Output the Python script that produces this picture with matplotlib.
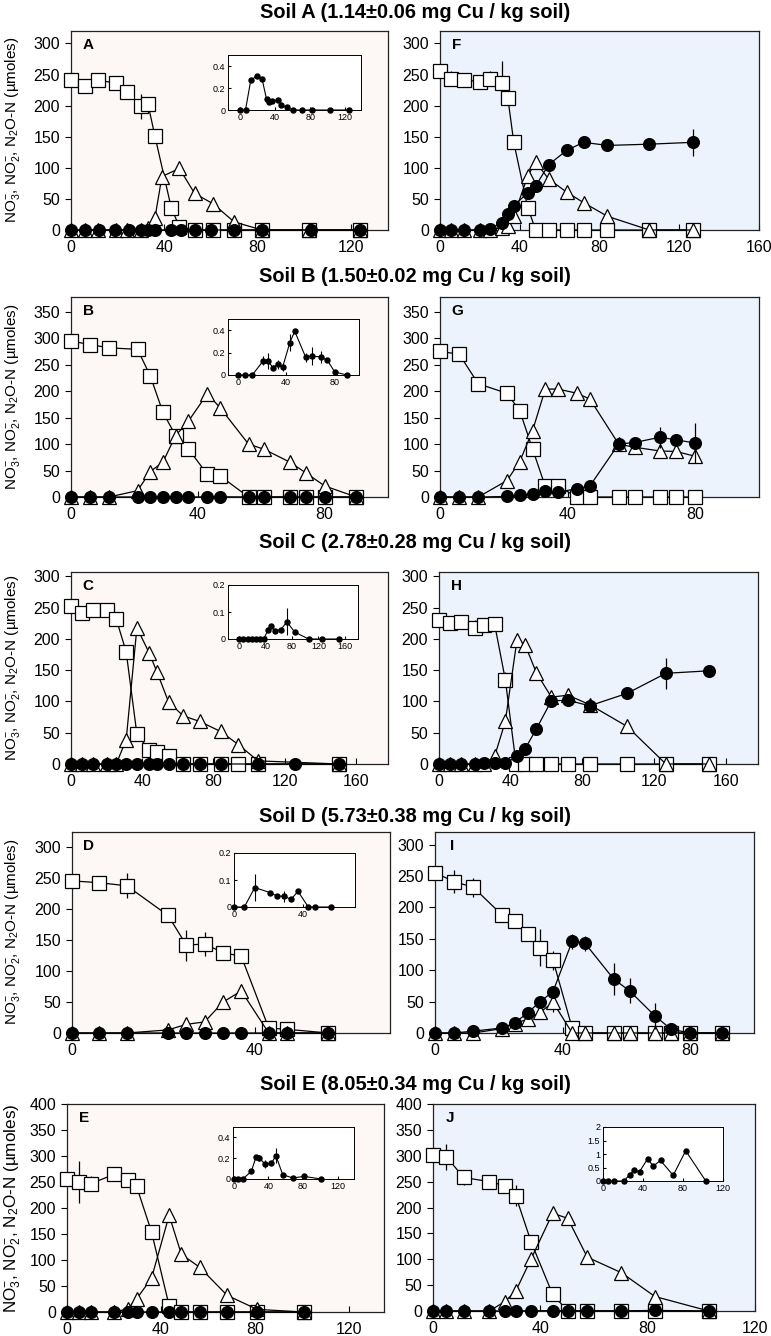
import matplotlib
matplotlib.use('Agg')
import matplotlib.pyplot as plt

plt.rcParams['font.family'] = ['Liberation Sans', 'DejaVu Sans']
plt.rcParams['mathtext.default'] = 'regular'

# ---------------- data ----------------
# Soil A, unamended (left) / F (right)
A_sq_x = [0, 6, 11.5, 19.5, 24, 30, 33, 36, 43, 46.5, 53, 61, 70, 82, 102, 124]
A_sq_y = [241, 231, 241, 236, 222, 199, 203, 151, 36, 5, 0, 0, 0, 0, 0, 0]
A_sq_e = [0, 8, 0, 0, 0, 20, 0, 0, 0, 0, 0, 0, 0, 0, 0, 0]
A_tr_x = [0, 6, 11.5, 19.5, 24, 30, 33, 36, 39, 46.5, 53, 61, 70, 82, 102, 124]
A_tr_y = [0, 0, 0, 0, 0, 0, 3, 19, 86, 99, 59, 42, 13, 0, 0, 0]
A_n2o_x = [0, 6, 12, 19, 25, 30, 33, 36, 43, 47, 53, 60, 70, 82, 103, 124]
A_n2o_y = [0, 0, 0.27, 0.31, 0.28, 0.10, 0.075, 0.085, 0.09, 0.045, 0.025, 0, 0, 0, 0, 0]

F_x = [0, 5.5, 12, 20, 25, 31, 34, 37, 44, 48, 54.5, 63.5, 72, 84, 105, 127]
F_sq_y = [256, 243, 242, 238, 243, 236, 213, 141, 36, 0, 0, 0, 0, 0, 0, 0]
F_sq_e = [0, 12, 0, 0, 12, 35, 0, 0, 0, 0, 0, 0, 0, 0, 0, 0]
F_tr_y = [0, 0, 0, 0, 0, 4, 7, 22, 87, 109, 82, 61, 44, 22, 0, 0]
F_ci_y = [0, 0, 0, 0, 2, 12, 26, 39, 60, 71, 105, 128, 141, 136, 138, 141]
F_ci_e = [0, 0, 0, 0, 0, 0, 0, 0, 0, 0, 0, 0, 0, 0, 0, 22]

# Soil B / G
B_x = [0, 6, 12, 21, 25, 29, 33, 37, 43, 47, 56, 61, 69, 74, 80, 90]
B_sq_y = [295, 288, 282, 279, 229, 160, 116, 91, 43, 40, 0, 0, 0, 0, 0, 0]
B_tr_y = [0, 0, 0, 12, 48, 66, 116, 143, 195, 169, 100, 90, 66, 46, 21, 0]
B_n2o_y = [0, 0, 0, 0.126, 0.126, 0.066, 0.096, 0.069, 0.29, 0.39, 0.16, 0.17, 0.16, 0.13, 0.027, 0]
B_n2o_e = [0, 0, 0, 0.04, 0.07, 0.02, 0.04, 0.03, 0.08, 0, 0.04, 0.08, 0.05, 0, 0, 0]

G_x = [0, 6, 12, 21, 25, 29, 33, 37, 43, 47, 56, 61, 69, 74, 80]
G_sq_y = [275, 270, 214, 196, 163, 91, 20, 20, 0, 0, 0, 0, 0, 0, 0]
G_tr_y = [0, 0, 0, 31, 67, 125, 204, 204, 196, 185, 100, 94, 87, 86, 77]
G_ci_y = [0, 0, 0, 1, 3, 6, 12, 9, 16, 21, 100, 103, 113, 108, 102]
G_ci_e = [0, 0, 0, 0, 0, 0, 0, 0, 0, 0, 10, 0, 20, 12, 38]

# Soil C / H
C_x = [0, 6, 12.6, 20, 25.4, 31, 37, 44, 48.3, 54.8, 63, 72.3, 84, 94, 105, 150.6]
C_sq_y = [252, 241, 246, 246, 232, 179, 48, 22, 19, 12, 0, 0, 0, 0, 0, 0]
C_tr_y = [0, 0, 0, 0, 0, 39, 218, 177, 147, 99, 77, 68, 52, 31, 5, 0]
C_n2o_x = [0, 6, 12.6, 20, 25.4, 31, 37, 44, 48.3, 54.8, 63, 72.3, 84, 105, 126, 150.6]
C_n2o_y = [0, 0, 0, 0, 0, 0, 0, 0.035, 0.047, 0.031, 0.035, 0.063, 0.026, 0, 0, 0]
C_n2o_e = [0, 0, 0, 0, 0, 0, 0, 0.01, 0, 0, 0, 0.05, 0, 0, 0, 0]

H_x = [0, 6, 12, 20, 25, 31, 37, 43.5, 48, 54.3, 62.7, 72, 84, 105, 126.6, 150.6]
H_sq_x = [0, 6, 12, 20, 25, 31, 37, 43, 48, 54.3, 62.7, 72, 84, 105, 126.6, 150.6]
H_sq_y = [231, 225, 227, 218, 223, 224, 135, 0, 0, 0, 0, 0, 0, 0, 0, 0]
H_sq_e = [0, 8, 0, 12, 10, 10, 12, 0, 0, 0, 0, 0, 0, 0, 0, 0]
H_tr_y = [0, 0, 0, 0, 0, 12, 68, 198, 191, 146, 107, 110, 95, 60, 0, 0]
H_ci_y = [0, 0, 0, 0, 1, 1, 1, 12, 24, 56, 101, 102, 93, 113, 145, 149]
H_ci_e = [0, 0, 0, 0, 0, 0, 0, 0, 0, 8, 0, 0, 0, 0, 25, 0]

# Soil D / I
D_x = [0, 6, 12, 21, 25, 29, 33, 37, 43, 47, 56]
D_sq_y = [246, 243, 238, 190, 142, 144, 130, 124, 8, 6, 0]
D_sq_e = [0, 0, 20, 0, 25, 20, 0, 0, 0, 0, 0]
D_tr_y = [0, 0, 0, 5, 14, 18, 50, 68, 0, 0, 0]
D_n2o_y = [0, 0, 0.072, 0.053, 0.04, 0.04, 0.028, 0.058, 0, 0, 0]
D_n2o_e = [0, 0, 0.05, 0, 0, 0.02, 0, 0, 0, 0, 0]

I_x = [0, 6, 12, 21, 25, 29, 33, 37, 43, 47, 56, 61, 69, 74, 80, 90]
I_sq_y = [255, 241, 232, 188, 178, 158, 136, 116, 8, 0, 0, 0, 0, 0, 0, 0]
I_sq_e = [0, 18, 15, 0, 0, 8, 30, 15, 0, 0, 0, 0, 0, 0, 0, 0]
I_tr_y = [0, 0, 0, 7, 15, 22, 33, 49, 0, 0, 0, 0, 0, 0, 0, 0]
I_tr_e = [0, 0, 0, 0, 0, 5, 10, 15, 0, 0, 0, 0, 0, 0, 0, 0]
I_ci_y = [0, 0, 3, 8, 16, 32, 50, 66, 146, 143, 86, 67, 27, 6, 0, 0]
I_ci_e = [0, 0, 0, 0, 0, 0, 0, 0, 12, 12, 25, 20, 20, 0, 0, 0]

# Soil E / J
E_x = [0, 5, 10.3, 20.2, 25.8, 29.6, 36, 43.5, 48.7, 56.5, 68.2, 81, 101]
E_sq_y = [256, 250, 247, 265, 254, 242, 154, 12, 0, 0, 0, 0, 0]
E_sq_e = [0, 40, 15, 0, 12, 0, 0, 0, 0, 0, 0, 0, 0]
E_tr_y = [0, 0, 0, 0, 6, 25, 65, 186, 111, 86, 32, 5, 0]
E_n2o_y = [0, 0, 0, 0.073, 0.216, 0.2, 0.143, 0.152, 0.225, 0.041, 0.01, 0.025, 0]
E_n2o_e = [0, 0, 0, 0, 0, 0.03, 0.04, 0, 0.07, 0, 0, 0.02, 0]

J_x = [0, 5, 11.4, 21, 26.7, 30.8, 36.6, 44.6, 50.2, 57.5, 70.2, 82.7, 102.8]
J_sq_y = [301, 298, 258, 250, 242, 223, 133, 32, 0, 0, 0, 0, 0]
J_sq_e = [0, 25, 15, 0, 0, 20, 0, 0, 0, 0, 0, 0, 0]
J_tr_y = [0, 0, 0, 0, 18, 38, 101, 189, 179, 104, 74, 28, 0]
J_n2o_y = [0, 0, 0, 0, 0.24, 0.39, 0.35, 0.82, 0.55, 0.76, 0.21, 1.12, 0]

titles = ['Soil A (1.14\u00b10.06 mg Cu / kg soil)',
          'Soil B (1.50\u00b10.02 mg Cu / kg soil)',
          'Soil C (2.78\u00b10.28 mg Cu / kg soil)',
          'Soil D (5.73\u00b10.38 mg Cu / kg soil)',
          'Soil E (8.05\u00b10.34 mg Cu / kg soil)']
ylab = 'NO$_3^{-}$, NO$_2^{-}$, N$_2$O-N (\u00b5moles)'

# ---------------- layout helpers ----------------
W, H = 771, 1336
fig = plt.figure(figsize=(W / 100, H / 100), dpi=100)
LEFT_BG = '#fdf8f6'
RIGHT_BG = '#edf3fc'


def box(l, t, r, b):
    return fig.add_axes([l / W, 1 - b / H, (r - l) / W, (b - t) / H])


def series(ax, x, y, e, marker, fc, ms, z):
    ax.plot(x, y, color='black', lw=0.9, marker=marker, ms=ms, mfc=fc,
            mec='black', mew=0.9, clip_on=False, zorder=z)
    if e is not None:
        ax.errorbar(x, y, yerr=e, fmt='none', ecolor='black', elinewidth=0.9,
                    capsize=0, clip_on=False, zorder=z - 0.5)


def panel(pos, letter, bg, xlim, ylim, xt, yt, sq, tr, ci):
    ax = box(*pos)
    ax.set_facecolor(bg)
    series(ax, *sq, 's', 'white', 9.5, 3)
    series(ax, *tr, '^', 'white', 10, 4)
    series(ax, *ci, 'o', 'black', 8.5, 5)
    ax.set_xlim(*xlim)
    ax.set_ylim(*ylim)
    ax.set_xticks(xt)
    ax.set_yticks(yt)
    ax.tick_params(axis='x', direction='in', length=4, pad=7, labelsize=11.5)
    ax.tick_params(axis='y', direction='out', length=4, pad=4, labelsize=11.5)
    for s in ax.spines.values():
        s.set_linewidth(0.9)
        s.set_color('#222222')
    ax.annotate(letter, xy=(0, 1), xycoords='axes fraction', xytext=(17, -14),
                textcoords='offset pixels', ha='center', va='center',
                fontsize=11, fontweight='bold')
    return ax


def inset(pos, x, y, e, xlim, ylim, xt, yt, ytl=None):
    ax = box(*pos)
    ax.set_facecolor('white')
    ax.plot(x, y, color='black', lw=0.8, marker='o', ms=3.6, mfc='black',
            mec='black', clip_on=False, zorder=3)
    if e is not None:
        ax.errorbar(x, y, yerr=e, fmt='none', ecolor='black', elinewidth=0.8,
                    capsize=0, clip_on=False)
    ax.set_xlim(*xlim)
    ax.set_ylim(*ylim)
    ax.set_xticks(xt)
    ax.set_yticks(yt)
    if ytl is not None:
        ax.set_yticklabels(ytl)
    ax.tick_params(axis='both', direction='in', length=2.5, pad=2, labelsize=6.5)
    for s in ax.spines.values():
        s.set_linewidth(0.7)
    return ax


# ---------------- row A / F ----------------
panel((71, 31, 388, 230), 'A', LEFT_BG, (0, 136), (0, 320), [0, 40, 80, 120],
      range(0, 301, 50), (A_sq_x, A_sq_y, A_sq_e), (A_tr_x, A_tr_y, None),
      (A_n2o_x, A_n2o_y, None))
inset((228, 55, 361, 110), A_n2o_x, A_n2o_y, None, (-14, 138), (0, 0.5),
      [0, 40, 80, 120], [0, 0.2, 0.4], ['0', '0.2', '0.4'])
panel((440, 31, 759, 230), 'F', RIGHT_BG, (0, 160), (0, 320), [0, 40, 80, 120, 160],
      range(0, 301, 50), (F_x, F_sq_y, F_sq_e), (F_x, F_tr_y, None),
      (F_x, F_ci_y, F_ci_e))

# ---------------- row B / G ----------------
panel((71, 297, 388, 497), 'B', LEFT_BG, (0, 100), (0, 378), [0, 40, 80],
      range(0, 351, 50), (B_x, B_sq_y, None), (B_x, B_tr_y, None),
      (B_x, B_n2o_y, None))
inset((228, 319, 359, 375), B_x, B_n2o_y, B_n2o_e, (-8, 100), (0, 0.5),
      [0, 40, 80], [0, 0.2, 0.4], ['0', '0.2', '0.4'])
panel((440, 297, 759, 497), 'G', RIGHT_BG, (0, 100), (0, 378), [0, 40, 80],
      range(0, 351, 50), (G_x, G_sq_y, None), (G_x, G_tr_y, None),
      (G_x, G_ci_y, G_ci_e))

# ---------------- row C / H ----------------
panel((71, 572, 388, 764), 'C', LEFT_BG, (0, 178), (0, 307), [0, 40, 80, 120, 160],
      range(0, 301, 50), (C_x, C_sq_y, None), (C_x, C_tr_y, None),
      (C_n2o_x, C_n2o_y, None))
inset((228, 585, 358, 639), C_n2o_x, C_n2o_y, C_n2o_e, (-17, 180), (0, 0.2),
      [0, 40, 80, 120, 160], [0, 0.1, 0.2], ['0', '0.1', '0.2'])
panel((439, 572, 758, 764), 'H', RIGHT_BG, (0, 178), (0, 307), [0, 40, 80, 120, 160],
      range(0, 301, 50), (H_sq_x, H_sq_y, H_sq_e), (H_x, H_tr_y, None),
      (H_x, H_ci_y, H_ci_e))

# ---------------- row D / I ----------------
panel((72, 832, 390, 1033), 'D', LEFT_BG, (0, 69.5), (0, 325), [0, 40],
      range(0, 301, 50), (D_x, D_sq_y, D_sq_e), (D_x, D_tr_y, None),
      (D_x, D_n2o_y, None))
inset((234, 853, 355, 907), D_x, D_n2o_y, D_n2o_e, (0, 70), (0, 0.2),
      [0, 40], [0, 0.1, 0.2], ['0', '0.1', '0.2'])
panel((435, 832, 754, 1033), 'I', RIGHT_BG, (0, 100), (0, 320), [0, 40, 80],
      range(0, 301, 50), (I_x, I_sq_y, I_sq_e), (I_x, I_tr_y, I_tr_e),
      (I_x, I_ci_y, I_ci_e))

# ---------------- row E / J ----------------
panel((67, 1104, 384, 1312), 'E', LEFT_BG, (0, 135), (0, 400), [0, 40, 80, 120],
      range(0, 401, 50), (E_x, E_sq_y, E_sq_e), (E_x, E_tr_y, None),
      (E_x, E_n2o_y, None))
inset((233, 1127, 354, 1179), E_x, E_n2o_y, E_n2o_e, (-1, 139), (0, 0.5),
      [0, 40, 80, 120], [0, 0.2, 0.4], ['0', '0.2', '0.4'])
panel((433, 1104, 755, 1311), 'J', RIGHT_BG, (0, 120), (0, 400), [0, 40, 80, 120],
      range(0, 401, 50), (J_x, J_sq_y, J_sq_e), (J_x, J_tr_y, None),
      (J_x, J_n2o_y, None))
inset((603, 1127, 723, 1181), J_x, J_n2o_y, None, (0, 120), (0, 2),
      [0, 40, 80, 120], [0, 0.5, 1, 1.5, 2], ['0', '0.5', '1', '1.5', '2'])

# ---------------- titles and y labels ----------------
title_y = [12, 277, 543, 816, 1084]
row_mid = [130, 397, 668, 932, 1208]
for i in range(5):
    fig.text(415 / W, 1 - title_y[i] / H, titles[i], ha='center', va='center',
             fontsize=14.4, fontweight='bold')
    fig.text(13 / W, 1 - row_mid[i] / H, ylab, rotation=90, ha='center',
             va='center', fontsize=12.3 if i == 4 else 11)

fig.savefig('out.png', dpi=100)
